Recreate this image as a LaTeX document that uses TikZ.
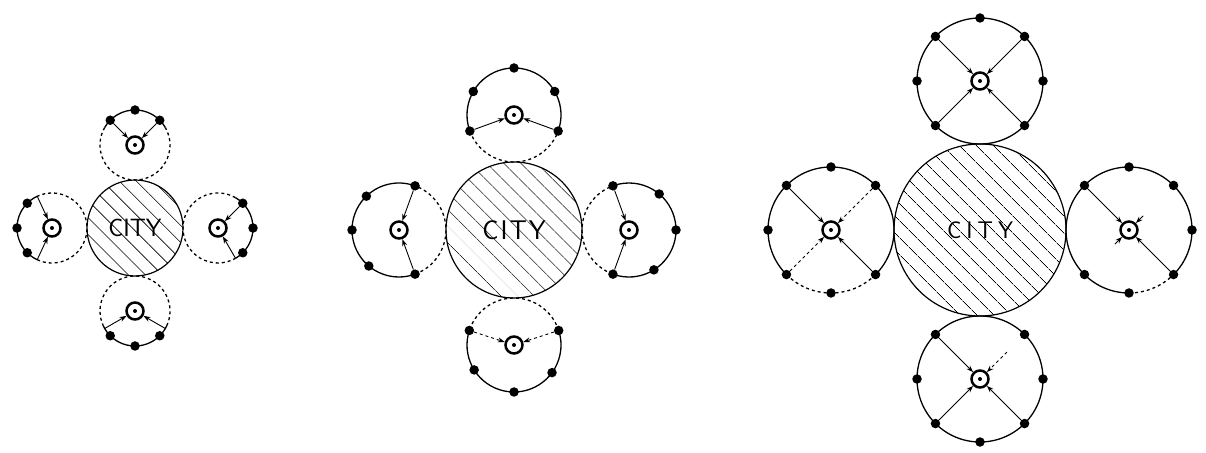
\documentclass[tikz,border=0pt]{standalone}
\usepackage{fontspec}
\usetikzlibrary{arrows.meta, positioning, patterns.meta}
\tikzset{
  city/.style  = {circle, draw, line width=1.2pt, inner sep=0pt, outer sep=0pt,
                  pattern={Lines[angle=-45, distance=13pt, line width=0.8pt]}},
  sat/.style   = {circle, inner sep=0pt, outer sep=0pt},
  hub/.style   = {circle, draw, line width=2.5pt, minimum size=17pt, inner sep=0pt, fill=white},
  farm/.style  = {circle, fill, inner sep=0pt, minimum size=9.5pt},
  rim/.style   = {line width=1.3pt},
  feed/.style  = {-{Stealth[length=7pt, width=5pt]}, line width=0.9pt},
}
\newcommand{\citylabel}[1]{C\hspace{#1}I\hspace{#1}T\hspace{#1}Y}

\begin{document}
\begin{tikzpicture}[x=1pt, y=1pt]
  \useasboundingbox (0,0) rectangle (1206,452);

  % stage 1: small city, satellites half sketched
  \node[city, minimum size=96, font=\sffamily\fontsize{25}{25}\selectfont,
        pattern={Lines[angle=-45, distance=12pt, line width=0.6pt]}] (city1) at (135,224) {CITY};
  \node[sat, minimum size=70, above=0pt of city1] (s1t) {};
  \node[sat, minimum size=70, left=0pt of city1] (s1l) {};
  \node[sat, minimum size=70, right=0pt of city1] (s1r) {};
  \node[sat, minimum size=70, below=0pt of city1] (s1b) {};
  \draw[rim] (s1t.30) arc[start angle=30, end angle=150, radius=35];
  \draw[rim, dashed] (s1t.150) arc[start angle=150, end angle=390, radius=35];
  \draw[rim] (s1l.115) arc[start angle=115, end angle=245, radius=35];
  \draw[rim, dashed] (s1l.245) arc[start angle=245, end angle=475, radius=35];
  \draw[rim] (s1r.300) arc[start angle=-60, end angle=60, radius=35];
  \draw[rim, dashed] (s1r.60) arc[start angle=60, end angle=300, radius=35];
  \draw[rim] (s1b.205) arc[start angle=205, end angle=335, radius=35];
  \draw[rim, dashed] (s1b.335) arc[start angle=335, end angle=565, radius=35];
  \foreach \s in {t,l,r,b}{\node[hub] (h1\s) at (s1\s) {}; \fill (h1\s) circle (2);}
  \foreach \a in {45,90,135}{\node[farm] (f1t\a) at (s1t.\a) {};}
  \foreach \a in {135,180,225}{\node[farm] (f1l\a) at (s1l.\a) {};}
  \foreach \a in {45,0,315}{\node[farm] (f1r\a) at (s1r.\a) {};}
  \foreach \a in {225,270,315}{\node[farm] (f1b\a) at (s1b.\a) {};}
  \draw[feed] (f1t45) -- (h1t);
  \draw[feed] (f1t135) -- (h1t);
  \draw[feed] (s1l.115) -- (h1l);
  \draw[feed] (s1l.245) -- (h1l);
  \draw[feed] (f1r45) -- (h1r);
  \draw[feed] (s1r.300) -- (h1r);
  \draw[feed] (s1b.210) -- (h1b);
  \draw[feed] (s1b.330) -- (h1b);

  % stage 2: city grows, satellites mostly built
  \node[city, minimum size=136, font=\sffamily\fontsize{27}{27}\selectfont]
        (city2) at (514,222) {\citylabel{2pt}};
  \node[sat, minimum size=94, above=0pt of city2] (s2t) {};
  \node[sat, minimum size=94, left=0pt of city2] (s2l) {};
  \node[sat, minimum size=94, right=0pt of city2] (s2r) {};
  \node[sat, minimum size=94, below=0pt of city2] (s2b) {};
  \draw[rim] (s2t.340) arc[start angle=-20, end angle=200, radius=47];
  \draw[rim, dashed] (s2t.200) arc[start angle=200, end angle=340, radius=47];
  \draw[rim] (s2l.70) arc[start angle=70, end angle=290, radius=47];
  \draw[rim, dashed] (s2l.290) arc[start angle=290, end angle=430, radius=47];
  \draw[rim] (s2r.246) arc[start angle=-114, end angle=114, radius=47];
  \draw[rim, dashed] (s2r.114) arc[start angle=114, end angle=246, radius=47];
  \draw[rim] (s2b.162) arc[start angle=162, end angle=378, radius=47];
  \draw[rim, dashed] (s2b.18) arc[start angle=18, end angle=162, radius=47];
  \foreach \s in {t,l,r,b}{\node[hub] (h2\s) at (s2\s) {}; \fill (h2\s) circle (2);}
  \foreach \a in {90,150,30,200,340}{\node[farm] (f2t\a) at (s2t.\a) {};}
  \foreach \a in {70,134,180,230,290}{\node[farm] (f2l\a) at (s2l.\a) {};}
  \foreach \a in {110,50,0,302,250}{\node[farm] (f2r\a) at (s2r.\a) {};}
  \foreach \a in {162,18,212,324,270}{\node[farm] (f2b\a) at (s2b.\a) {};}
  \draw[feed] (f2t200) -- (h2t);
  \draw[feed] (f2t340) -- (h2t);
  \draw[feed] (f2l70) -- (h2l);
  \draw[feed] (f2l290) -- (h2l);
  \draw[feed] (f2r110) -- (h2r);
  \draw[feed] (f2r250) -- (h2r);
  \draw[feed, dashed] (f2b162) -- (h2b);
  \draw[feed, dashed] (f2b18) -- (h2b);

  % stage 3: full ring of satellites
  \node[city, minimum size=172, font=\sffamily\fontsize{24}{24}\selectfont]
        (city3) at (980,222) {\citylabel{5pt}};
  \node[sat, minimum size=126, above=0pt of city3] (s3t) {};
  \node[sat, minimum size=126, left=0pt of city3] (s3l) {};
  \node[sat, minimum size=126, right=0pt of city3] (s3r) {};
  \node[sat, minimum size=126, below=0pt of city3] (s3b) {};
  \draw[rim] (s3t) circle (63);
  \draw[rim] (s3l.315) arc[start angle=-45, end angle=225, radius=63];
  \draw[rim, dashed] (s3l.225) arc[start angle=225, end angle=315, radius=63];
  \draw[rim] (s3r.315) arc[start angle=-45, end angle=270, radius=63];
  \draw[rim, dashed] (s3r.270) arc[start angle=270, end angle=315, radius=63];
  \draw[rim] (s3b) circle (63);
  \foreach \s in {t,l,r,b}{\node[hub] (h3\s) at (s3\s) {}; \fill (h3\s) circle (2);}
  \foreach \a in {0,45,90,135,180,225,315}{\node[farm] (f3t\a) at (s3t.\a) {};}
  \foreach \a in {45,90,135,180,225,270,315}{\node[farm] (f3l\a) at (s3l.\a) {};}
  \foreach \a in {0,45,90,135,225,270,315}{\node[farm] (f3r\a) at (s3r.\a) {};}
  \foreach \a in {0,45,135,180,225,270,315}{\node[farm] (f3b\a) at (s3b.\a) {};}
  \foreach \a in {45,135,225,315}{\draw[feed] (f3t\a) -- (h3t);}
  \draw[feed] (f3l135) -- (h3l);
  \draw[feed] (f3l315) -- (h3l);
  \draw[feed, dashed] (f3l45) -- (h3l);
  \draw[feed, dashed] (f3l225) -- (h3l);
  \draw[feed] (f3r135) -- (h3r);
  \draw[feed] (f3r315) -- (h3r);
  \draw[feed, shorten <=38pt] (f3r45) -- (h3r);
  \draw[feed, shorten <=38pt] (f3r225) -- (h3r);
  \draw[feed] (f3b135) -- (h3b);
  \draw[feed] (f3b225) -- (h3b);
  \draw[feed] (f3b315) -- (h3b);
  \draw[feed, dashed, shorten <=20pt] (f3b45) -- (h3b);
\end{tikzpicture}
\end{document}
